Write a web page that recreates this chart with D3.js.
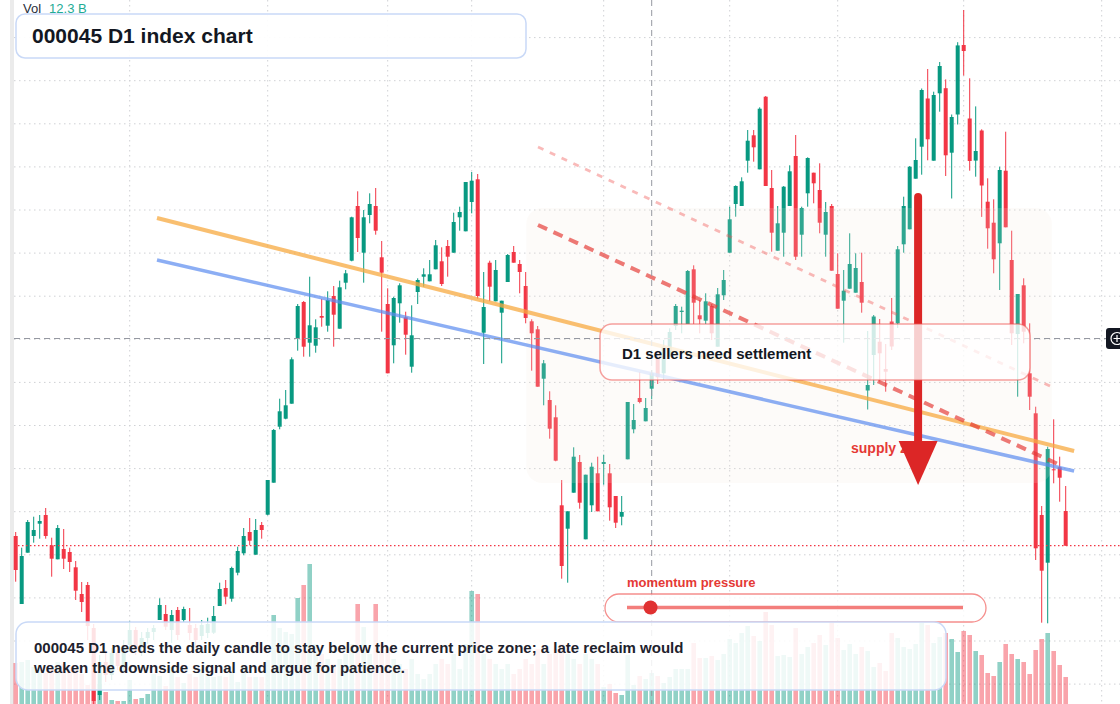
<!DOCTYPE html>
<html><head><meta charset="utf-8">
<script src="https://cdn.jsdelivr.net/npm/d3@7"></script>
<style>html,body{margin:0;padding:0;background:#fff;overflow:hidden}svg{display:block;font-family:"Liberation Sans",Arial,sans-serif}</style>
</head><body><svg id="c" width="1120" height="704"></svg>
<script>
// ---- data (index level, daily candles: [open, high, low, close]) ----
const ohlc = [
[464,468,418.3,430],[396,452.3,396,444],[447.3,480,447.3,478],[464,483.3,457.3,470],[476.3,485,461.3,479],
[485,492,461.3,464],[454.7,462.3,423.3,441.3],[440.7,475,440.7,472],[451,471,431,441.3],[448,452.3,428,438],
[432.7,439,400,409.3],[406,418,388,398],[415,418,360,374],[372,376,296,299],[305,345,300,338],
[338,350,318,325],[325,352,320,347],[347,355,330,334],[334,360,328,355],[355,379,348,370],
[370,373,345,352],[352,368,344,362],[362,372,356,368],[368,375,360,372],[380,401.7,380,395],
[386,395,370,373.3],[370,390,357,385],[390,393,360,365],[380,393.3,378,391],[375,392,360,367],
[372,376,352,360],[364,380,360,375],[367,382.3,362,376],[367.3,394,366,384],[394,417.3,394,411],
[412,420,395.7,403.3],[401.3,433.3,398.3,432],[427.3,453.3,424.7,449],[446.7,472,444.7,464],[468,482,454.7,459.3],
[445.3,481,445.3,470],[475,478,461.3,470],[485.3,520,484.7,520],[517.3,571,517.3,570],[573.3,601.3,570.7,588.7],
[581.3,610,580.7,594.7],[596.3,642.7,596.3,640.7],[661.3,696,649.3,694],[698,699,643.3,653.3],[657.3,723.3,643.3,674.7],
[654.3,680.7,647.3,672.7],[684,701,673.3,682.3],[674.3,708.7,668.3,700],[704,714,653.3,685.3],[671.3,719.3,671.3,712.7],
[717.3,730,710.7,726.7],[739.3,783.3,738.7,782.7],[794,808.7,748,762],[747.3,790,717.3,782.7],[785,806.7,776.7,796],
[794,812,765.3,769.3],[742.7,759,668.3,727.3],[696,711.7,626.7,626.7],[654.7,703.3,636.7,702],[696.7,716.7,677.3,714.7],
[682.7,688.3,645.3,665.3],[633.3,694.7,627.3,664.7],[708,721.7,696,720],[723.3,731.7,713.3,725.7],[718.7,740,718.7,725.7],
[730.7,760,730.7,754.7],[738.7,752.7,714,716],[754,760,723.3,743.3],[747.3,787.3,747.3,778],[782.7,793.3,769.3,788],
[768.7,818,768.7,818],[798,828,786.7,819.3],[820.7,826,701.3,704],[667.3,728,636,693],[737.3,739.3,698.7,713.3],
[698.7,740,698.7,730],[687.3,699.3,636.7,699.3],[718,746,718,745],[748,754,737.3,737.3],[736,740,706.7,728],
[714,728,676.7,682],[678.7,680.7,629.3,666.7],[670.7,674,613.3,613.3],[621.3,640,594.7,636.7],[600,608.7,561.3,571.3],
[582.7,594.7,538.7,539.3],[494.7,520,421.3,434],[471.3,488.7,417.3,488.7],[507.3,552.7,507.3,543.3],[538,545,491.3,497.3],
[460.7,525.3,460.7,525.3],[494.7,537.3,488,533.3],[526.7,543.3,488.7,488.7],[536,545.3,515.3,538],[526.7,536,479.3,492.7],
[504,504,472,477.3],[483.3,504,474.7,488],[540.7,598,540.7,598],[570.7,596,566.7,580],[602,628,596.7,598],
[578.7,602,578.7,592],[611.3,630,600.7,626.7],[641.3,649.3,616,622.7],[626.7,660,620,653.3],[643.3,671.7,643.3,668],
[674,696,670,694],[688,693.3,666.7,689.3],[676,730,676,729],[730.7,734.7,676,697.3],[684.7,700,666.7,680.7],
[679.3,706.7,676,698.7],[694,696,660,666.7],[653.3,712,653.3,705.7],[704.7,730,700,720],[747.3,793.3,747.3,780.7],
[796,814.7,783.3,814],[794,822.7,794,818.7],[839.3,870,827.3,859.3],[864.7,870,838.3,852.7],[830.7,892.7,830.7,891.3],
[903.3,904,814,814],[812,830,748.3,767.3],[749.3,794,749.3,776.7],[767.3,814,743.3,813.3],[794,834.7,794,828.7],
[844,865,740,743.3],[765.3,793.3,743.3,792],[806.7,842.7,793.3,842],[827.3,827.3,796.7,816.7],[810,836.7,766.7,777.3],
[765.3,798,743.3,788],[794,796,729.3,729.3],[726,746.7,691.3,691.3],[699.3,730,657.3,709.3],[711.3,766.7,711.3,736],
[707.3,746.7,707.3,732],[718,747.3,687.3,697.3],[609.5,669,590.5,615],[645,685,615,683.5],[658.3,681,618.3,646.7],
[631,656,608.3,628.3],[678.5,702,650,653.5],[676.7,754,672,750.7],[755.7,803.3,747.3,794],[770.7,834,770.7,833.3],
[821.3,861.7,821.3,840],[853.3,911.5,825.3,910],[901.5,931,839.7,860.7],[839.3,908.3,839.3,905],[906.7,938,888.3,934],
[911.8,920.6,824,844.7],[847.3,885.5,801.5,883],[885.5,957.8,875.5,954.6],[955,990,924.5,949],[881.5,921.7,829.3,839],
[839.4,893.6,823.3,849],[869.5,870.7,783.1,814.5],[798.3,821.7,751.3,771.7],[777.3,800.7,726.7,740.7],[756.7,833.3,710,830],
[829.3,868.3,772.7,772.7],[740,769.3,655,666.7],[666,706,603.3,706],[714.7,721.7,656.7,668.3],[626.7,676.7,590,603.3],
[586.7,593.3,440,451.7],[485,494,377.3,429.3],[437.3,553.3,376.7,551],[530.7,580.7,516.7,530],[532.7,543.3,498.3,522.3],
[489,514,454.3,454.3]
];
const volumes = [
41,42,44,37,34,31,37,42,40,38, 36,30,19,48,20,12,4,3,3,24,
5,6,10,30,28,18,37,27,21,30, 27,35,30,27,28,27,31,22,39,27,
27,27,44,89,76,72,70,106,119,140, 60,50,45,40,45,50,60,100,77,50,
100,60,55,45,40,35,45,30,25,30, 40,45,40,50,35,60,113,110,50,45,
40,35,40,30,35,45,40,55,40,50, 55,60,50,45,40,50,45,40,17,20,
11,9,49,19,28,25,31,28,21,27, 35,35,35,61,46,46,48,44,50,65,
61,71,78,68,63,92,79,48,49,47, 76,50,57,61,69,59,82,66,54,60,
50,57,53,37,41,33,71,66,57,55, 60,81,79,61,67,71,65,52,73,69,
53,49,31,28,42,60,50,45,42,30, 54,65,71,53,39,27
];
const priceTicks = [962.4,919.3,876.2,833.1,790,746.9,703.8,660.7,617.6,574.5,531.4,488.3,445.2,402.1,359,315.9];
const timeTicks = [19,42,62,76,98,119,137,158,181];
const crosshair = {index: 106, price: 661.5};
const trendOrange = [[23.55,782],[176.4,549]];
const trendBlue = [[23.55,740],[176.4,529]];
const dashUpper = [[87.05,853],[172.4,614]];
const dashLower = [[87.05,775],[174.4,534]];
const zone = {i0: 85.1, i1: 172.7, top: 792, bottom: 517};
const arrow = {index: 150.4, from: 803, to: 515};
const volumeLabel = "12.3 B";
const title = "000045 D1 index chart";
const noteLines = ["000045 D1 needs the daily candle to stay below the current price zone; a late reclaim would",
                   "weaken the downside signal and argue for patience."];
const sellerText = "D1 sellers need settlement";
const supplyText = "supply zone";
const momentumText = "momentum pressure";
const momentumValue = 0.07;

// ---- setup ----
const W = 1120, H = 704;
const svg = d3.select("#c");
const x = d3.scaleLinear().domain([0, ohlc.length - 1]).range([15.7, 1065.7]);
const y = d3.scaleLinear().domain([296, 1000]).range([H, 0]);
const yv = d3.scaleLinear().domain([0, 140]).range([H, 564]);
const UP = "#089981", DN = "#f23645";
const data = ohlc.map((d, i) => ({i, o: d[0], h: d[1], l: d[2], c: d[3], v: volumes[i]}));

// left strip
svg.append("rect").attr("x", 10).attr("y", 0).attr("width", 4).attr("height", H).attr("fill", "#ebebeb");

// grid
const g = svg.append("g");
g.selectAll(".hg").data(priceTicks).join("line")
  .attr("x1", 14).attr("x2", W).attr("y1", d => y(d)).attr("y2", d => y(d))
  .attr("stroke", "#cfd1d4").attr("stroke-width", 1).attr("stroke-dasharray", "1.5,3.5");
g.selectAll(".vg").data(timeTicks).join("line")
  .attr("x1", d => x(d)).attr("x2", d => x(d)).attr("y1", 0).attr("y2", H)
  .attr("stroke", "#cfd1d4").attr("stroke-width", 1).attr("stroke-dasharray", "1.5,3.5");

// volume
svg.append("g").selectAll("rect").data(data).join("rect")
  .attr("x", d => x(d.i) - 2.3).attr("width", 4.6)
  .attr("y", d => yv(d.v)).attr("height", d => H - yv(d.v))
  .attr("fill", d => d.c >= d.o ? UP : DN).attr("opacity", 0.45);

// candles
const cg = svg.append("g");
cg.selectAll("line").data(data).join("line")
  .attr("x1", d => x(d.i)).attr("x2", d => x(d.i))
  .attr("y1", d => y(d.h)).attr("y2", d => y(d.l))
  .attr("stroke", d => d.c >= d.o ? UP : DN).attr("stroke-width", 1);
cg.selectAll("rect").data(data).join("rect")
  .attr("x", d => x(d.i) - 2).attr("width", 4)
  .attr("y", d => y(Math.max(d.o, d.c)))
  .attr("height", d => Math.max(1, Math.abs(y(d.o) - y(d.c))))
  .attr("fill", d => d.c >= d.o ? UP : DN);

// zone
svg.append("rect").attr("x", x(zone.i0)).attr("y", y(zone.top))
  .attr("width", x(zone.i1) - x(zone.i0)).attr("height", y(zone.bottom) - y(zone.top))
  .attr("rx", 16).attr("fill", "rgb(245,232,222)").attr("opacity", 0.17);

// trend lines
const line = d3.line().x(d => x(d[0])).y(d => y(d[1]));
svg.append("path").attr("d", line(trendOrange)).attr("stroke", "#f7a940").attr("stroke-opacity", 0.75).attr("stroke-width", 4).attr("fill", "none");
svg.append("path").attr("d", line(trendBlue)).attr("stroke", "#5b8cf0").attr("stroke-opacity", 0.7).attr("stroke-width", 3.5).attr("fill", "none");
svg.append("path").attr("d", line(dashUpper)).attr("stroke", "#ef5350").attr("stroke-opacity", 0.4).attr("stroke-width", 2.8).attr("stroke-dasharray", "6,7").attr("fill", "none");
svg.append("path").attr("d", line(dashLower)).attr("stroke", "#e53935").attr("stroke-opacity", 0.68).attr("stroke-width", 4).attr("stroke-dasharray", "10,7").attr("fill", "none");

// crosshair
svg.append("line").attr("x1", x(crosshair.index)).attr("x2", x(crosshair.index)).attr("y1", 0).attr("y2", H)
  .attr("stroke", "#9598a1").attr("stroke-dasharray", "6,4").attr("stroke-width", 1);
svg.append("line").attr("x1", 14).attr("x2", 1106).attr("y1", y(crosshair.price)).attr("y2", y(crosshair.price))
  .attr("stroke", "#9598a1").attr("stroke-dasharray", "6,4").attr("stroke-width", 1);

// last price line
const last = data[data.length - 1];
svg.append("line").attr("x1", 14).attr("x2", W).attr("y1", y(last.c)).attr("y2", y(last.c))
  .attr("stroke", DN).attr("stroke-dasharray", "1.5,2.5").attr("stroke-width", 1.2);

// supply label
svg.append("text").attr("x", 851).attr("y", 453).text(supplyText)
  .attr("fill", "#e53935").attr("font-weight", "bold").attr("font-size", 14);

// arrow
const ax = x(arrow.index), headBase = y(arrow.to) - 44;
svg.append("line").attr("x1", ax).attr("x2", ax).attr("y1", y(arrow.from)).attr("y2", headBase + 2)
  .attr("stroke", "#dc2626").attr("stroke-width", 8).attr("stroke-linecap", "round");
svg.append("path").attr("d", `M${ax - 19.5},${headBase}L${ax + 19.5},${headBase}L${ax},${y(arrow.to)}Z`).attr("fill", "#dc2626");

// sellers box
svg.append("rect").attr("x", 600).attr("y", 324).attr("width", 430).attr("height", 56).attr("rx", 12)
  .attr("fill", "#ffffff").attr("fill-opacity", 0.78).attr("stroke", "#ef5350").attr("stroke-opacity", 0.55).attr("stroke-width", 1.5);
svg.append("text").attr("x", 622).attr("y", 359).text(sellerText)
  .attr("fill", "#131722").attr("font-weight", "bold").attr("font-size", 15);

// momentum
svg.append("text").attr("x", 627).attr("y", 587).text(momentumText)
  .attr("fill", "#e53935").attr("font-weight", "bold").attr("font-size", 13);
svg.append("rect").attr("x", 605).attr("y", 594).attr("width", 381).attr("height", 28).attr("rx", 14)
  .attr("fill", "#ffffff").attr("fill-opacity", 0.8).attr("stroke", "#ef5350").attr("stroke-opacity", 0.65).attr("stroke-width", 1.3);
const sx = d3.scaleLinear().domain([0, 1]).range([627, 963]);
svg.append("line").attr("x1", sx(0)).attr("x2", sx(1)).attr("y1", 607.5).attr("y2", 607.5)
  .attr("stroke", "#ef5350").attr("stroke-opacity", 0.75).attr("stroke-width", 3.5);
svg.append("circle").attr("cx", sx(momentumValue)).attr("cy", 607.5).attr("r", 7).attr("fill", "#e03131");

// note box
svg.append("rect").attr("x", 16).attr("y", 622).attr("width", 930).attr("height", 68).attr("rx", 12)
  .attr("fill", "#ffffff").attr("fill-opacity", 0.86).attr("stroke", "#c9d9f7").attr("stroke-width", 1.5);
svg.append("text").attr("x", 34).attr("y", 653).attr("fill", "#1e222d").attr("font-weight", "bold").attr("font-size", 15)
  .selectAll("tspan").data(noteLines).join("tspan").attr("x", 34).attr("dy", (d, i) => i ? 20 : 0).text(d => d);

// title box
svg.append("rect").attr("x", 16).attr("y", 14).attr("width", 510).attr("height", 44).attr("rx", 9)
  .attr("fill", "#ffffff").attr("fill-opacity", 0.92).attr("stroke", "#c9d9f7").attr("stroke-width", 1.5);
svg.append("text").attr("x", 32).attr("y", 43).text(title)
  .attr("fill", "#131722").attr("font-weight", "bold").attr("font-size", 21);

// volume legend
const vl = svg.append("text").attr("x", 23).attr("y", 13).attr("font-size", 13);
vl.append("tspan").text("Vol").attr("fill", "#2a2e39");
vl.append("tspan").attr("dx", 8).text(volumeLabel).attr("fill", "#22ab94");

// crosshair button
const cy0 = y(crosshair.price);
svg.append("rect").attr("x", 1106).attr("y", cy0 - 10.5).attr("width", 22).attr("height", 21).attr("rx", 3).attr("fill", "#131722");
svg.append("circle").attr("cx", 1117).attr("cy", cy0).attr("r", 6).attr("fill", "none").attr("stroke", "#fff").attr("stroke-width", 1.2);
svg.append("path").attr("d", `M1113.5,${cy0}H1120.5M1117,${cy0 - 3.5}V${cy0 + 3.5}`).attr("stroke", "#fff").attr("stroke-width", 1.2);
</script></body></html>
